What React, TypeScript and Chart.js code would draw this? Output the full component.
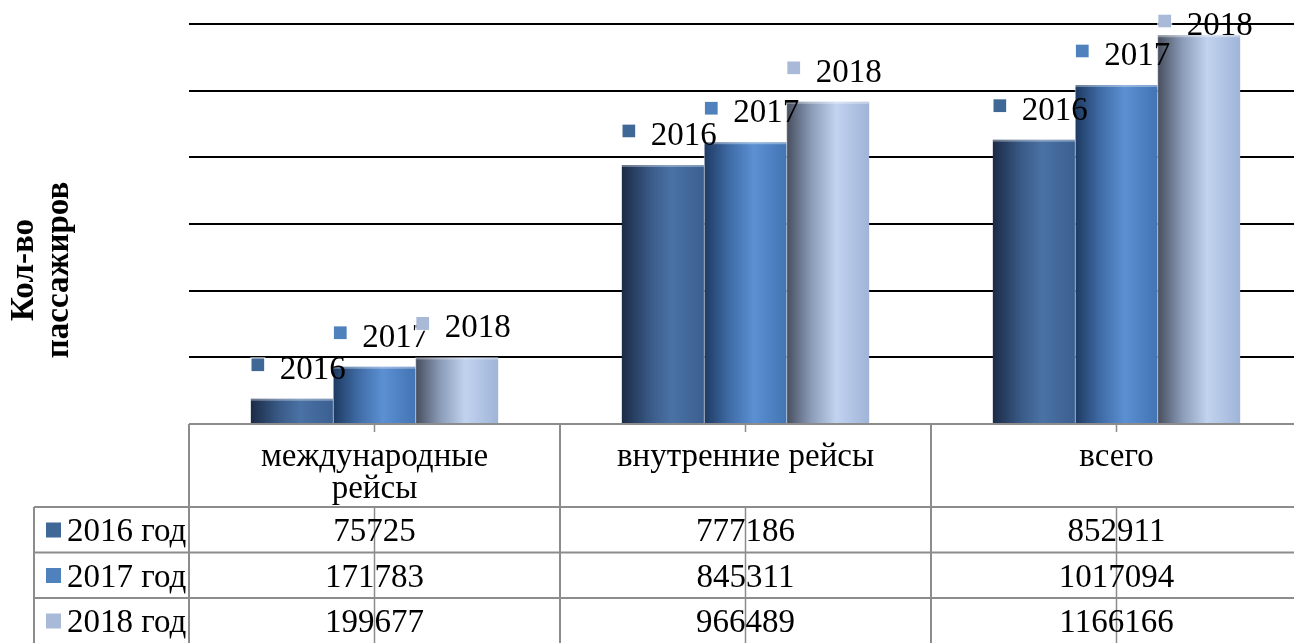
import React, { useEffect, useRef } from 'react';
import { Chart, registerables } from 'chart.js';

Chart.register(...registerables);

const categories: string[][] = [['международные', 'рейсы'], ['внутренние рейсы'], ['всего']];
const seriesNames = ['2016 год', '2017 год', '2018 год'];
const barTags = ['2016', '2017', '2018'];
const values2016 = [75725, 777186, 852911];
const values2017 = [171783, 845311, 1017094];
const values2018 = [199677, 966489, 1166166];
const yMax = 1200000;
const yStep = 200000;
const axisTitle = ['Кол-во', 'пассажиров'];

const markerColors = ['#3f6897', '#4f81bd', '#a9b9d8'];
const gradStops: [number, string][][] = [
  [[0, '#1b2b46'], [0.35, '#3a5b88'], [0.6, '#4a72a5'], [1, '#3b5f90']],
  [[0, '#1e3a62'], [0.3, '#3f6ba5'], [0.6, '#5b90d3'], [1, '#4374b3']],
  [[0, '#474e5e'], [0.3, '#8b9cb9'], [0.6, '#c1d3ef'], [1, '#a0b4d8']],
];
const FONT = "'Liberation Serif', 'Times New Roman', serif";
const FS = 33;
const TABLE_LINE = '#8c8c8c';

const customPlugin = {
  id: 'excelLook',
  beforeDatasetsDraw(chart: any) {
    const ctx = chart.ctx;
    chart.data.datasets.forEach((_ds: any, di: number) => {
      const meta = chart.getDatasetMeta(di);
      meta.data.forEach((el: any) => {
        const { x, width } = el.getProps(['x', 'width'], true);
        const left = x - width / 2;
        const g = ctx.createLinearGradient(left, 0, left + width, 0);
        gradStops[di].forEach(([o, c]) => g.addColorStop(o, c));
        el.options = { ...el.options, backgroundColor: g };
      });
    });
  },
  afterDatasetsDraw(chart: any) {
    const ctx = chart.ctx;
    const top = chart.chartArea.top;
    const n = chart.data.labels.length;
    chart.data.datasets.forEach((_ds: any, di: number) => {
      chart.getDatasetMeta(di).data.forEach((el: any) => {
        const { x, y, width, base } = el.getProps(['x', 'y', 'width', 'base'], true);
        const left = x - width / 2;
        ctx.save();
        ctx.fillStyle = 'rgba(255,255,255,0.35)';
        ctx.fillRect(left, y, width, 2);
        if (di > 0) {
          ctx.fillStyle = 'rgba(255,255,255,0.45)';
          ctx.fillRect(left - 0.5, y, 1, base - y);
        }
        ctx.restore();
      });
    });
    for (let i = 0; i < n; i++) {
      chart.data.datasets.forEach((_ds: any, di: number) => {
        const el = chart.getDatasetMeta(di).data[i];
        const { x, y, width } = el.getProps(['x', 'y', 'width'], true);
        const left = x - width / 2;
        const cy = Math.max(y - 31, top);
        ctx.save();
        ctx.fillStyle = markerColors[di];
        ctx.fillRect(left + 0.5, cy - 9.5, 13, 13);
        ctx.strokeStyle = 'rgba(255,255,255,0.8)';
        ctx.lineWidth = 1;
        ctx.strokeRect(left, cy - 10, 14, 14);
        ctx.fillStyle = '#000';
        ctx.font = `${FS}px ${FONT}`;
        ctx.textBaseline = 'alphabetic';
        ctx.textAlign = 'left';
        ctx.fillText(barTags[di], left + 29, cy + 11);
        ctx.restore();
      });
    }
  },
  afterDraw(chart: any) {
    const ctx = chart.ctx;
    const area = chart.chartArea;
    const xs = chart.scales.x;
    const n = chart.data.labels.length;
    const catW = xs.width / n;
    const tTop = area.bottom;
    const headH = 83;
    const rowH = 45.5;
    const legendLeft = 34;
    const rowsTop = tTop + headH;
    const bottom = chart.height + 2;
    const colLefts: number[] = [];
    for (let i = 0; i < n; i++) colLefts.push(xs.getPixelForValue(i) - catW / 2);
    const rightEdge = colLefts[n - 1] + catW;

    ctx.save();
    ctx.strokeStyle = TABLE_LINE;
    ctx.lineWidth = 2;
    ctx.beginPath();
    ctx.moveTo(area.left, tTop);
    ctx.lineTo(rightEdge, tTop);
    for (let r = 0; r < 3; r++) {
      const yy = rowsTop + r * rowH;
      ctx.moveTo(legendLeft, yy);
      ctx.lineTo(rightEdge, yy);
    }
    ctx.moveTo(legendLeft, rowsTop);
    ctx.lineTo(legendLeft, bottom);
    colLefts.forEach((cx) => {
      ctx.moveTo(cx, tTop);
      ctx.lineTo(cx, bottom);
    });
    ctx.stroke();

    ctx.lineWidth = 1.5;
    ctx.beginPath();
    for (let i = 0; i < n; i++) {
      const cx = xs.getPixelForValue(i);
      ctx.moveTo(cx, tTop);
      ctx.lineTo(cx, tTop + 8);
      ctx.moveTo(cx, rowsTop);
      ctx.lineTo(cx, bottom);
    }
    ctx.stroke();

    ctx.fillStyle = '#000';
    ctx.font = `${FS}px ${FONT}`;
    ctx.textAlign = 'center';
    ctx.textBaseline = 'alphabetic';
    for (let i = 0; i < n; i++) {
      const cx = xs.getPixelForValue(i);
      const lines: string[] = chart.data.labels[i];
      lines.forEach((ln, k) => ctx.fillText(ln, cx, tTop + 42 + k * 32));
    }

    const allValues = [values2016, values2017, values2018];
    for (let r = 0; r < 3; r++) {
      const base = rowsTop + r * rowH + 34;
      ctx.textAlign = 'center';
      ctx.fillStyle = '#000';
      for (let i = 0; i < n; i++) {
        const cx = xs.getPixelForValue(i);
        ctx.fillText(String(allValues[r][i]), cx, base);
      }
      ctx.fillStyle = markerColors[r];
      ctx.fillRect(46, base - 18.5, 15, 15);
      ctx.fillStyle = '#000';
      ctx.textAlign = 'left';
      ctx.fillText(seriesNames[r], 67, base);
    }

    ctx.save();
    ctx.translate(0, 270);
    ctx.rotate(-Math.PI / 2);
    ctx.font = `bold ${FS}px ${FONT}`;
    ctx.textAlign = 'center';
    ctx.fillStyle = '#000';
    ctx.fillText(axisTitle[0], 0, 33);
    ctx.fillText(axisTitle[1], 0, 68);
    ctx.restore();

    ctx.restore();
  },
};

export default function App() {
  const ref = useRef<HTMLCanvasElement>(null);
  useEffect(() => {
    const chart = new Chart(ref.current as HTMLCanvasElement, {
      type: 'bar',
      data: {
        labels: categories as any,
        datasets: [
          { label: seriesNames[0], data: values2016, backgroundColor: markerColors[0] },
          { label: seriesNames[1], data: values2017, backgroundColor: markerColors[1] },
          { label: seriesNames[2], data: values2018, backgroundColor: markerColors[2] },
        ],
      },
      options: {
        responsive: false,
        animation: false,
        devicePixelRatio: 1,
        layout: { padding: { left: 189, top: 24, bottom: 219, right: 0 } },
        plugins: {
          legend: { display: false },
          tooltip: { enabled: false },
          title: { display: false },
        },
        datasets: { bar: { barPercentage: 1, categoryPercentage: 2 / 3 } },
        scales: {
          x: { display: false },
          y: {
            min: 0,
            max: yMax,
            ticks: { display: false, stepSize: yStep },
            border: { display: false },
            grid: {
              drawTicks: false,
              lineWidth: 2,
              color: (c: any) => (c.tick && c.tick.value === 0 ? 'rgba(0,0,0,0)' : '#000'),
            },
          },
        },
      } as any,
      plugins: [customPlugin],
    });
    return () => chart.destroy();
  }, []);

  return (
    <div style={{ position: 'fixed', left: 0, top: 0, width: 1294, height: 643, overflow: 'hidden', background: '#fff' }}>
      <canvas ref={ref} width={1302} height={643} style={{ width: 1302, height: 643, display: 'block' }} />
    </div>
  );
}
